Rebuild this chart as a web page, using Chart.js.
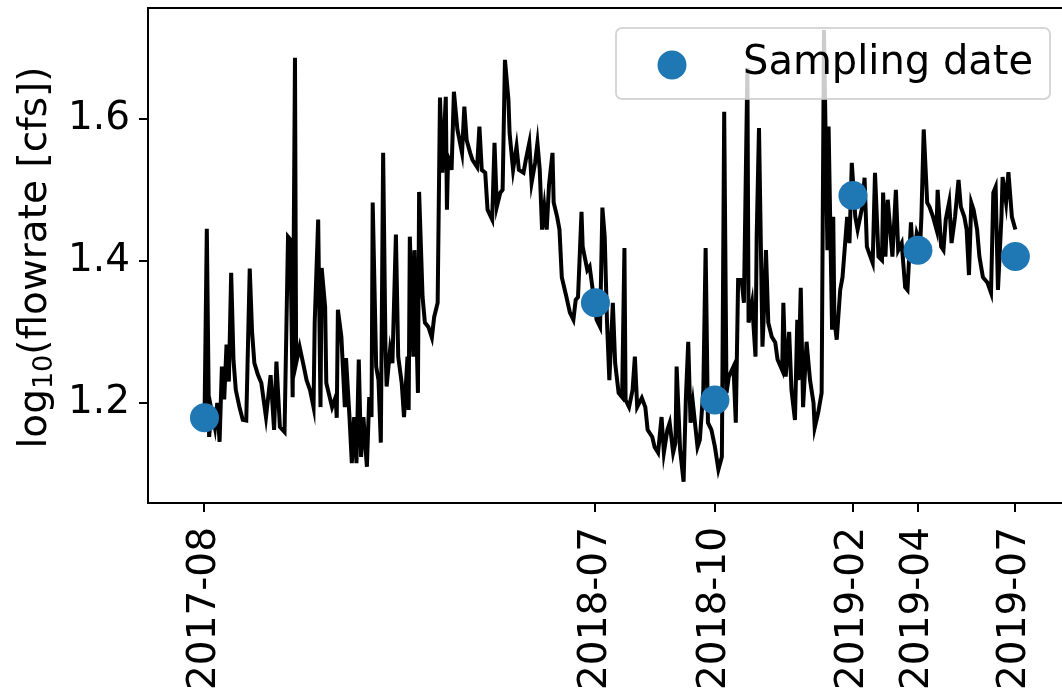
<!DOCTYPE html>
<html>
<head>
<meta charset="utf-8">
<script src="https://cdn.jsdelivr.net/npm/chart.js@4.4.1/dist/chart.umd.min.js"></script>
<style>
body { margin: 0; background: #fff; }
#graphique { display: block; }
</style>
</head>
<body>
<canvas id="graphique" width="1062" height="696"></canvas>
<script>
// jours depuis le premier prélèvement (2017-08)
const flowDays = [
    0, 2, 4, 6, 9, 11, 13, 15, 17, 19, 21, 23, 25, 27, 30, 33, 36, 39, 41, 43,
    46, 49, 53, 57, 60, 62, 65, 69, 72, 74, 76, 78, 79, 82, 85, 88, 91, 94, 95, 98,
    100, 101, 104, 105, 110, 113, 114, 115, 118, 121, 122, 125, 127, 129, 131, 133, 135, 137, 140, 142,
    144, 145, 148, 150, 152, 154, 156, 157, 160, 162, 165, 167, 170, 172, 175, 176, 177, 180, 181, 184,
    185, 188, 190, 193, 196, 198, 201, 203, 205, 208, 209, 210, 212, 213, 215, 218, 222, 224, 226, 229,
    231, 235, 237, 239, 242, 244, 248, 250, 252, 255, 257, 259, 262, 263, 266, 269, 271, 275, 277, 280,
    282, 285, 287, 289, 291, 293, 295, 297, 300, 301, 304, 306, 308, 312, 315, 318, 320, 322, 325, 326,
    330, 332, 335, 338, 341, 343, 345, 347, 349, 352, 354, 357, 360, 362, 363, 366, 369, 371, 373, 377,
    380, 382, 386, 388, 391, 394, 396, 399, 401, 404, 406, 407, 410, 413, 415, 417, 419, 421, 425, 427,
    430, 432, 434, 437, 440, 443, 446, 448, 450, 452, 456, 458, 460, 463, 465, 468, 469, 472, 475, 476,
    478, 481, 482, 484, 486, 489, 492, 494, 498, 499, 501, 504, 506, 509, 511, 512, 514, 516, 519, 522,
    525, 526, 529, 532, 534, 537, 538, 541, 542, 543, 545, 548, 550, 554, 556, 558, 561, 563, 567, 569,
    571, 574, 576, 578, 581, 584, 585, 587, 589, 593, 596, 598, 601, 604, 606, 609, 611, 614, 617, 618,
    620, 623, 625, 628, 631, 632, 635, 637, 639, 642, 644, 647, 650, 652, 655, 657, 659, 661, 663, 666,
    668, 671, 675, 678, 680, 682, 684, 687, 688, 691, 693, 696, 699
];
const flowValues = [
    1.176, 1.445, 1.152, 1.190, 1.165, 1.200, 1.145, 1.251, 1.205, 1.282, 1.230, 1.383, 1.260, 1.218, 1.195, 1.176, 1.175, 1.389, 1.300, 1.256,
    1.240, 1.228, 1.180, 1.239, 1.162, 1.258, 1.166, 1.159, 1.434, 1.430, 1.208, 1.686, 1.256, 1.279, 1.256, 1.232, 1.218, 1.194, 1.313, 1.458,
    1.194, 1.390, 1.335, 1.228, 1.194, 1.208, 1.179, 1.331, 1.293, 1.194, 1.263, 1.180, 1.115, 1.180, 1.115, 1.261, 1.124, 1.180, 1.110, 1.208,
    1.180, 1.482, 1.251, 1.232, 1.144, 1.552, 1.279, 1.223, 1.275, 1.256, 1.437, 1.265, 1.228, 1.180, 1.265, 1.190, 1.434, 1.265, 1.415, 1.214,
    1.497, 1.349, 1.313, 1.307, 1.292, 1.321, 1.341, 1.630, 1.524, 1.631, 1.472, 1.546, 1.538, 1.528, 1.638, 1.585, 1.552, 1.617, 1.570, 1.552,
    1.542, 1.532, 1.589, 1.528, 1.524, 1.472, 1.458, 1.566, 1.476, 1.496, 1.500, 1.683, 1.627, 1.580, 1.528, 1.561, 1.528, 1.524, 1.542, 1.566,
    1.510, 1.538, 1.566, 1.528, 1.444, 1.476, 1.444, 1.507, 1.552, 1.482, 1.462, 1.444, 1.377, 1.349, 1.327, 1.317, 1.345, 1.349, 1.469, 1.420,
    1.387, 1.392, 1.355, 1.317, 1.307, 1.475, 1.434, 1.313, 1.232, 1.341, 1.256, 1.214, 1.208, 1.418, 1.204, 1.194, 1.218, 1.265, 1.194, 1.207,
    1.194, 1.162, 1.152, 1.138, 1.130, 1.180, 1.130, 1.162, 1.172, 1.130, 1.144, 1.251, 1.134, 1.089, 1.208, 1.286, 1.172, 1.200, 1.138, 1.148,
    1.218, 1.418, 1.172, 1.162, 1.138, 1.106, 1.124, 1.610, 1.214, 1.237, 1.251, 1.172, 1.373, 1.373, 1.341, 1.672, 1.313, 1.341, 1.265, 1.434,
    1.587, 1.279, 1.317, 1.415, 1.313, 1.293, 1.285, 1.261, 1.246, 1.341, 1.237, 1.300, 1.218, 1.176, 1.317, 1.232, 1.362, 1.194, 1.286, 1.232,
    1.200, 1.165, 1.186, 1.214, 1.725, 1.415, 1.589, 1.303, 1.462, 1.317, 1.289, 1.359, 1.377, 1.462, 1.425, 1.538, 1.462, 1.444, 1.476, 1.517,
    1.420, 1.406, 1.397, 1.524, 1.406, 1.401, 1.496, 1.406, 1.486, 1.406, 1.500, 1.415, 1.425, 1.363, 1.359, 1.454, 1.397, 1.439, 1.425, 1.462,
    1.585, 1.482, 1.476, 1.462, 1.444, 1.500, 1.420, 1.415, 1.458, 1.483, 1.425, 1.462, 1.514, 1.476, 1.462, 1.444, 1.380, 1.482, 1.472, 1.444,
    1.406, 1.377, 1.369, 1.355, 1.496, 1.504, 1.359, 1.462, 1.518, 1.482, 1.525, 1.462, 1.444
];
const sampleDays = [0, 337, 440, 559, 615, 699];
const sampleValues = [1.179, 1.341, 1.204, 1.492, 1.415, 1.406];
const sampleLabels = ["2017-08", "2018-07", "2018-10", "2019-02", "2019-04", "2019-07"];
const yTicks = [1.2, 1.4, 1.6];

Chart.defaults.font.family = "'DejaVu Sans'";
Chart.defaults.color = "#000";

const flowPoints = flowDays.map((d, i) => ({x: d, y: flowValues[i]}));
const samplePoints = sampleDays.map((d, i) => ({x: d, y: sampleValues[i]}));

const cadre = {
    id: "cadre",
    afterDraw(chart) {
        const ctx = chart.ctx;
        const a = chart.chartArea;
        ctx.save();
        // spines
        ctx.strokeStyle = "#000";
        ctx.lineWidth = 2;
        ctx.beginPath();
        ctx.moveTo(a.right + 2, a.top);
        ctx.lineTo(a.left, a.top);
        ctx.lineTo(a.left, a.bottom);
        ctx.lineTo(a.right + 2, a.bottom);
        ctx.stroke();

        // titre de l'axe y avec indice
        ctx.fillStyle = "#000";
        ctx.translate(46, (a.top + a.bottom) / 2 + 2);
        ctx.rotate(-Math.PI / 2);
        ctx.textBaseline = "alphabetic";
        ctx.textAlign = "left";
        const big = "39px 'DejaVu Sans'";
        const small = "27px 'DejaVu Sans'";
        ctx.font = big;
        const w1 = ctx.measureText("log").width;
        const w3 = ctx.measureText("(flowrate [cfs])").width;
        ctx.font = small;
        const w2 = ctx.measureText("10").width;
        let x = -(w1 + w2 + w3) / 2;
        ctx.font = big;
        ctx.fillText("log", x, 0);
        x += w1;
        ctx.font = small;
        ctx.fillText("10", x, 6);
        x += w2;
        ctx.font = big;
        ctx.fillText("(flowrate [cfs])", x, 0);
        ctx.restore();

        // légende
        ctx.save();
        const lw = 434, lh = 71;
        const lx = a.right - 12 - lw, ly = a.top + 20;
        const r = 6;
        ctx.beginPath();
        ctx.moveTo(lx + r, ly);
        ctx.arcTo(lx + lw, ly, lx + lw, ly + lh, r);
        ctx.arcTo(lx + lw, ly + lh, lx, ly + lh, r);
        ctx.arcTo(lx, ly + lh, lx, ly, r);
        ctx.arcTo(lx, ly, lx + lw, ly, r);
        ctx.closePath();
        ctx.fillStyle = "rgba(255,255,255,0.8)";
        ctx.fill();
        ctx.strokeStyle = "rgba(204,204,204,0.8)";
        ctx.lineWidth = 2;
        ctx.stroke();
        const ds = chart.data.datasets[0];
        ctx.beginPath();
        ctx.arc(lx + 56, ly + 37, 14.5, 0, 2 * Math.PI);
        ctx.fillStyle = ds.backgroundColor;
        ctx.fill();
        ctx.fillStyle = "#000";
        ctx.font = "40px 'DejaVu Sans'";
        ctx.textBaseline = "alphabetic";
        ctx.fillText(ds.label, lx + 127, ly + 46);
        ctx.restore();
    }
};

const config = {
    type: "scatter",
    data: {
        datasets: [{
            label: "Sampling date",
            data: samplePoints,
            backgroundColor: "#1f77b4",
            borderWidth: 0,
            pointRadius: 14.5,
            pointHoverRadius: 14.5
        }, {
            type: "line",
            label: "flowrate",
            data: flowPoints,
            borderColor: "#000",
            borderWidth: 4,
            pointRadius: 0,
            tension: 0,
            fill: false
        }]
    },
    options: {
        responsive: false,
        animation: false,
        events: [],
        layout: {
            autoPadding: false,
            padding: {left: 0, right: 0, top: 8, bottom: 0}
        },
        scales: {
            x: {
                type: "linear",
                min: -48.7,
                max: 739.2,
                border: {display: false},
                grid: {display: true, drawOnChartArea: false, drawTicks: true, tickLength: 9, color: "#000", lineWidth: 2},
                ticks: {
                    autoSkip: false,
                    minRotation: 90,
                    maxRotation: 90,
                    padding: 15,
                    font: {size: 39},
                    callback: (v, i) => sampleLabels[i]
                },
                afterBuildTicks: (s) => { s.ticks = sampleDays.map(d => ({value: d})); },
                afterFit: (s) => { s.height = 193; s.paddingLeft = 0; s.paddingRight = 0; }
            },
            y: {
                min: 1.059,
                max: 1.756,
                border: {display: false},
                grid: {display: true, drawOnChartArea: false, drawTicks: true, tickLength: 9, color: "#000", lineWidth: 2},
                ticks: {
                    padding: 9,
                    font: {size: 39},
                    callback: (v) => v.toFixed(1)
                },
                afterBuildTicks: (s) => { s.ticks = yTicks.map(v => ({value: v})); },
                afterFit: (s) => { s.width = 148; s.paddingTop = 0; s.paddingBottom = 0; }
            }
        },
        plugins: {
            legend: {display: false},
            tooltip: {enabled: false}
        }
    },
    plugins: [cadre]
};

const chart1 = new Chart(document.querySelector("#graphique"), config);
</script>
</body>
</html>
